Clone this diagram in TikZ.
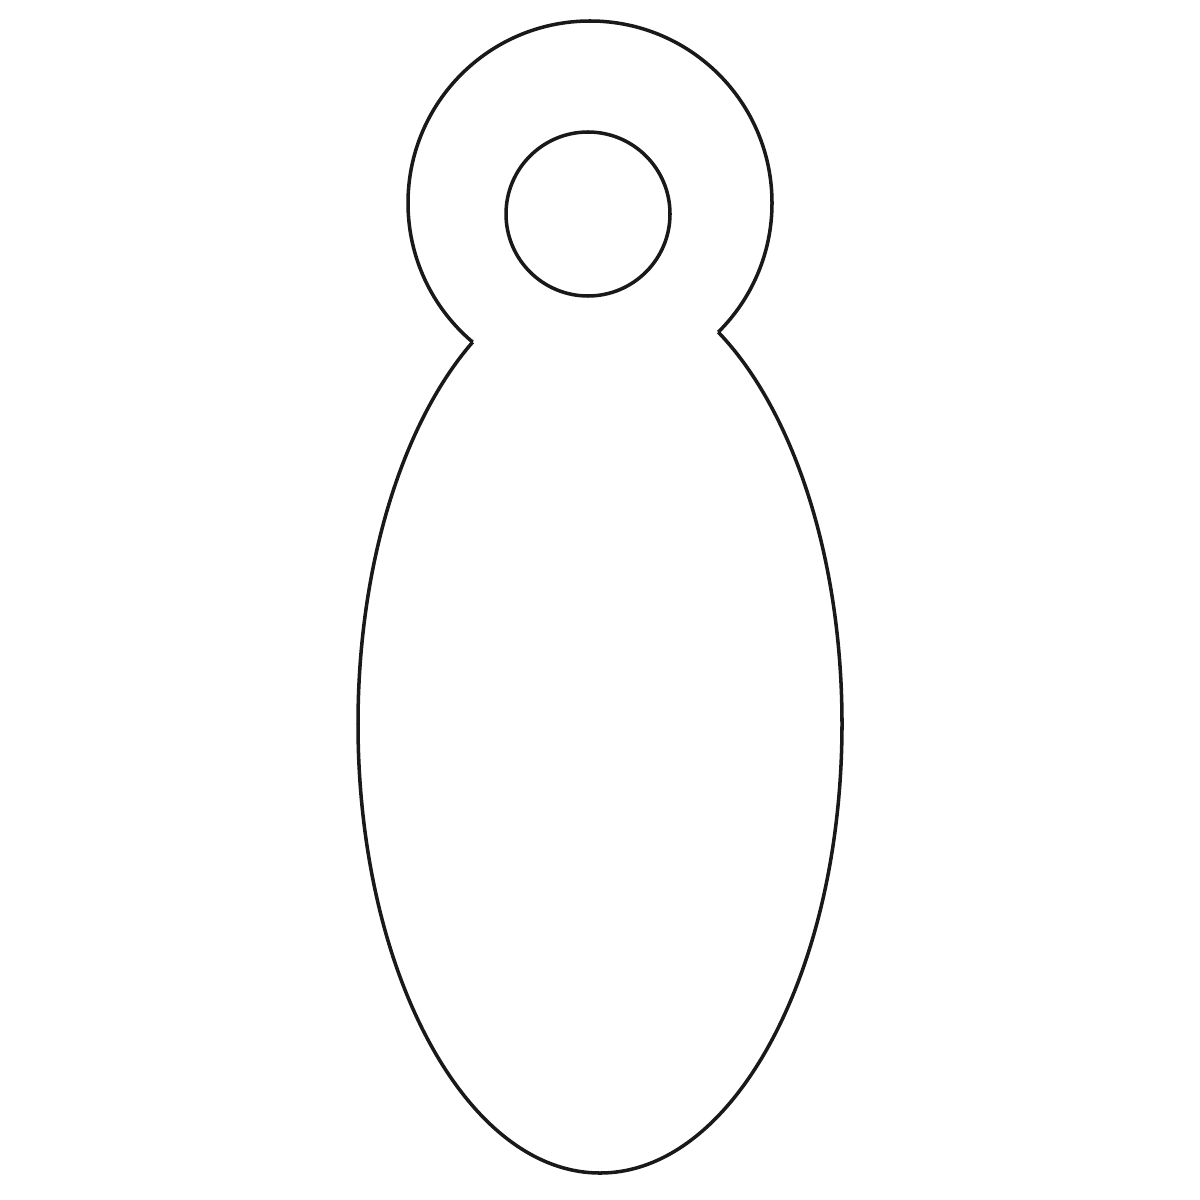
\documentclass[tikz,border=0pt]{standalone}
\begin{document}
\begin{tikzpicture}[x=0.2mm,y=-0.2mm,outline/.style={draw=black!90,line width=2pt}]
\useasboundingbox[fill=white] (0,0) rectangle (1200,1200);
\coordinate (hc) at (590,203);
\coordinate (ec) at (600,724);
\coordinate (ic) at (588,214);
\begin{scope}[even odd rule]
\clip (0,0) rectangle (1200,1200) (ec) ellipse [x radius=242, y radius=449];
\draw[outline] (hc) circle [radius=182];
\end{scope}
\begin{scope}[even odd rule]
\clip (0,0) rectangle (1200,1200) (hc) circle [radius=182];
\draw[outline] (ec) ellipse [x radius=242, y radius=449];
\end{scope}
\draw[outline] (ic) circle [radius=82];
\end{tikzpicture}
\end{document}
